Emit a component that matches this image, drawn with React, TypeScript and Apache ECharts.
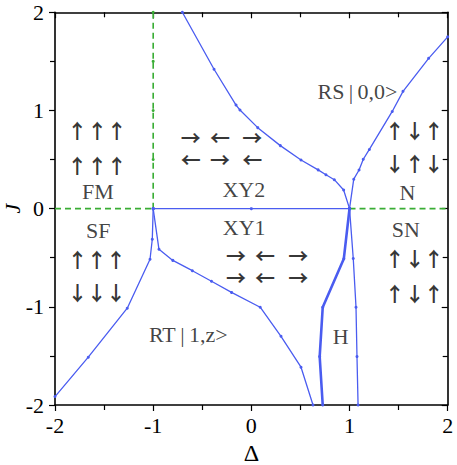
import React, { useEffect, useRef } from "react";
import * as echarts from "echarts";

// Axis ticks
const deltaRange = [-2, 2];
const jRange = [-2, 2];

// Phase boundaries (Δ, J)
const xy2RsBoundary: number[][] = [
  [-0.703, 2], [-0.38, 1.42], [-0.156, 1.055], [-0.116, 1.005], [0.065, 0.825],
  [0.295, 0.642], [0.506, 0.496], [0.68, 0.395], [0.76, 0.345], [0.845, 0.295],
  [0.94, 0.19], [1, 0],
];
const rsNBoundary: number[][] = [
  [1, 0], [1.043, 0.3], [1.097, 0.394], [1.14, 0.503], [1.202, 0.603],
  [1.435, 0.99], [1.545, 1.195], [1.806, 1.531], [2, 1.75],
];
const xy1xy2Boundary: number[][] = [[-1, 0], [0, 0], [1, 0]];
const sfRtBoundary: number[][] = [
  [-2, -1.914], [-1.661, -1.513], [-1.264, -1.014], [-1.032, -0.515], [-1.009, -0.312], [-1, 0],
];
const xy1RtBoundary: number[][] = [
  [-1, 0], [-0.941, -0.414], [-0.8, -0.527], [-0.601, -0.632], [-0.406, -0.74],
  [-0.202, -0.853], [0.09, -1.004], [0.302, -1.3], [0.506, -1.615], [0.628, -2],
];
const hLeftBoundary: number[][] = [
  [1, 0], [0.942, -0.51], [0.727, -1.004], [0.696, -1.507], [0.727, -2],
];
const hRightBoundary: number[][] = [
  [1, 0], [1.038, -0.507], [1.066, -1.004], [1.076, -1.507], [1.087, -2],
];
const greenLeft: number[][] = [[-2, 0], [-1, 0]];
const greenRight: number[][] = [[1, 0], [2, 0]];
const greenVertical: number[][] = [[-1, 0], [-1, 0.5], [-1, 1], [-1, 1.5], [-1, 2]];

// Region labels
const regionNames = ["FM", "SF", "XY2", "XY1", "N", "SN", "RS\u2009|\u20090,0>", "RT\u2009|\u20091,z>", "H"];
const regionPos: number[][] = [
  [-1.562, 0.173], [-1.559, -0.222], [-0.077, 0.196], [-0.073, -0.197],
  [1.59, 0.165], [1.574, -0.212], [1.081, 1.198], [-0.642, -1.286], [0.911, -1.303],
];

// Spin arrows
const arrowGlyphs = [
  "↑", "↑", "↑", "↑", "↑", "↑",
  "→", "←", "→", "←", "→", "←",
  "→", "←", "→", "→", "←", "→",
  "↑", "↑", "↑", "↓", "↓", "↓",
  "↑", "↓", "↑", "↓", "↑", "↓",
  "↑", "↓", "↑", "↑", "↓", "↑",
];
const arrowPos: number[][] = [
  [-1.773, 0.801], [-1.569, 0.801], [-1.371, 0.801],
  [-1.773, 0.435], [-1.569, 0.435], [-1.371, 0.435],
  [-0.618, 0.722], [-0.319, 0.722], [0.01, 0.722],
  [-0.618, 0.499], [-0.319, 0.499], [0.01, 0.499],
  [-0.156, -0.48], [0.139, -0.48], [0.478, -0.48],
  [-0.156, -0.703], [0.139, -0.703], [0.478, -0.703],
  [-1.77, -0.515], [-1.576, -0.515], [-1.379, -0.515],
  [-1.77, -0.855], [-1.576, -0.855], [-1.379, -0.855],
  [1.46, 0.801], [1.664, 0.801], [1.858, 0.801],
  [1.46, 0.462], [1.664, 0.462], [1.858, 0.462],
  [1.46, -0.505], [1.664, -0.505], [1.858, -0.505],
  [1.46, -0.862], [1.664, -0.862], [1.858, -0.862],
];

const FONT = "'Liberation Serif', 'Times New Roman', serif";
const ARROW_FONT = "'Noto Sans CJK JP', 'DejaVu Sans', sans-serif";
const BLUE = "#4a5cf0";
const GREEN = "#3aad35";

export default function App() {
  const ref = useRef<HTMLDivElement>(null);
  useEffect(() => {
    document.body.style.margin = "0";
    const chart = echarts.init(ref.current!, null, { renderer: "svg" });
    const axisLine = { show: true, onZero: false, lineStyle: { color: "#000", width: 1.6 } };
    const tickStyle = { color: "#000", width: 1.2 };
    const labelStyle = { color: "#000", fontFamily: FONT, fontSize: 22 };
    const blueLine = (data: number[][], width = 1.3) => ({
      type: "line",
      data,
      symbol: "circle",
      symbolSize: 3,
      lineStyle: { color: BLUE, width },
      itemStyle: { color: BLUE },
      z: 3,
    });
    const greenLine = (data: number[][], showSymbol: boolean) => ({
      type: "line",
      data,
      symbol: showSymbol ? "circle" : "none",
      symbolSize: 3,
      lineStyle: { color: GREEN, width: 1.6, type: [6, 4] },
      itemStyle: { color: GREEN },
      z: 2,
    });
    chart.setOption({
      animation: false,
      grid: {
        left: 55, right: 9.3, top: 12.3, bottom: 60,
        containLabel: false, outerBoundsMode: "none",
      },
      xAxis: [
        {
          type: "value", position: "bottom", min: deltaRange[0], max: deltaRange[1], interval: 1,
          axisLine, axisTick: { show: true, inside: false, length: 6, lineStyle: tickStyle },
          minorTick: { show: true, splitNumber: 2, length: 5, lineStyle: tickStyle },
          splitLine: { show: false },
          axisLabel: { ...labelStyle, margin: 9 },
          name: "Δ", nameLocation: "middle", nameGap: 30,
          nameTextStyle: { color: "#000", fontFamily: FONT, fontSize: 24 },
        },
        {
          type: "value", position: "top", min: deltaRange[0], max: deltaRange[1], interval: 1,
          axisLine, axisTick: { show: true, inside: true, length: 6, lineStyle: tickStyle },
          minorTick: { show: true, splitNumber: 2, length: 5, lineStyle: tickStyle },
          splitLine: { show: false }, axisLabel: { show: false },
        },
      ],
      yAxis: [
        {
          type: "value", position: "left", min: jRange[0], max: jRange[1], interval: 1,
          axisLine, axisTick: { show: true, inside: false, length: 6, lineStyle: tickStyle },
          minorTick: { show: true, splitNumber: 2, length: 5, lineStyle: tickStyle },
          splitLine: { show: false },
          axisLabel: { ...labelStyle, margin: 11 },
          name: "J", nameLocation: "middle", nameGap: 32, nameRotate: 90, nameMoveOverlap: false,
          nameTextStyle: { color: "#000", fontFamily: FONT, fontSize: 22, fontStyle: "italic" },
        },
        {
          type: "value", position: "right", min: jRange[0], max: jRange[1], interval: 1,
          axisLine, axisTick: { show: true, inside: true, length: 6, lineStyle: tickStyle },
          minorTick: { show: true, splitNumber: 2, length: 5, lineStyle: tickStyle },
          splitLine: { show: false }, axisLabel: { show: false },
        },
      ],
      series: [
        greenLine(greenLeft, false),
        greenLine(greenRight, false),
        greenLine(greenVertical, true),
        blueLine(xy2RsBoundary),
        blueLine(rsNBoundary),
        blueLine(xy1xy2Boundary),
        blueLine(sfRtBoundary),
        blueLine(xy1RtBoundary),
        blueLine(hLeftBoundary, 2.6),
        blueLine(hRightBoundary),
        {
          type: "scatter",
          symbolSize: 0,
          data: regionPos.map((p, i) => ({ value: p, name: regionNames[i] })),
          label: {
            show: true, position: "inside", formatter: (p: any) => p.name,
            color: "#111", fontFamily: FONT, fontSize: 22,
          },
          z: 5,
        },
        {
          type: "scatter",
          symbolSize: 0,
          data: arrowPos.map((p, i) => ({ value: p, name: arrowGlyphs[i] })),
          label: {
            show: true, position: "inside", formatter: (p: any) => p.name,
            color: "#000", fontFamily: ARROW_FONT, fontSize: 20, fontWeight: "bold", lineHeight: 18,
          },
          z: 5,
        },
      ],
    });
    return () => chart.dispose();
  }, []);
  return <div ref={ref} style={{ width: 457, height: 465 }} />;
}
